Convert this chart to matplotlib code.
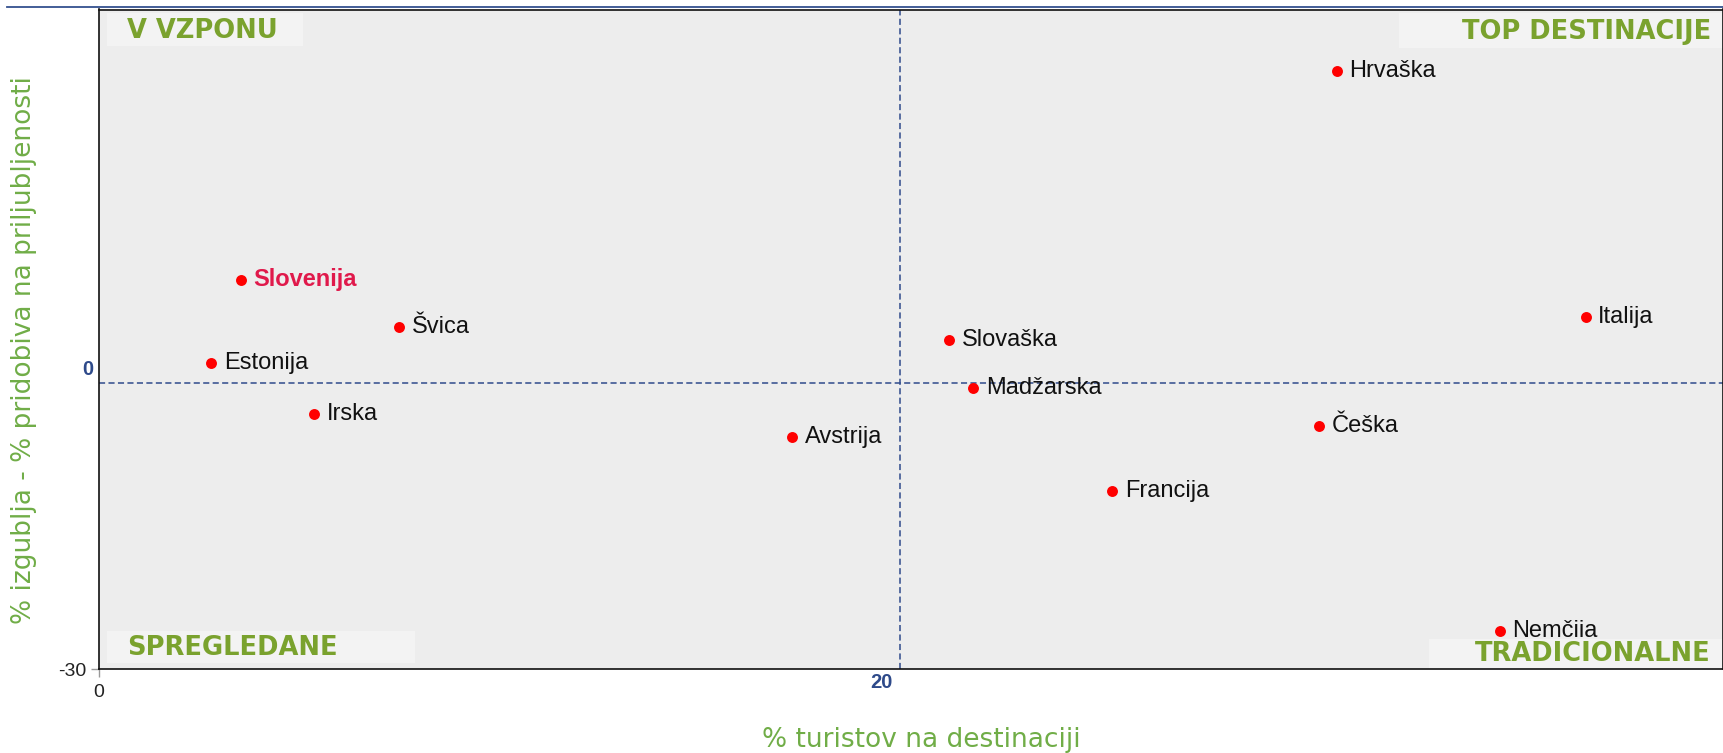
import matplotlib
matplotlib.use("Agg")
import matplotlib.pyplot as plt
from matplotlib.patches import Rectangle
from matplotlib.lines import Line2D

# ---- data ----
countries = ["Hrvaška", "Slovenija", "Švica", "Estonija", "Irska", "Avstrija",
             "Slovaška", "Madžarska", "Francija", "Češka", "Italija", "Nemčiia"]
tourists_pct = [30.9, 3.54, 7.49, 2.80, 5.38, 17.31, 21.23, 21.83, 25.30, 30.46, 37.12, 34.98]
popularity_change = [32.8, 10.85, 5.94, 2.16, -3.22, -5.67, 4.55, -0.46, -11.28, -4.48, 6.99, -26.0]
highlight = "Slovenija"
mid_x, mid_y = 20, 0
x_range = (0, 40.55)
y_range = (-30, 39.25)
quadrant_labels = ["V VZPONU", "TOP DESTINACIJE", "SPREGLEDANE", "TRADICIONALNE"]
xlabel = "% turistov na destinaciji"
ylabel = "% izgublja - % pridobiva na priljubljenosti"

W, H = 1723, 753
fig = plt.figure(figsize=(W / 100, H / 100), dpi=100)
ax_l, ax_r, ax_t, ax_b = 99, 1723, 9.5, 669
ax = fig.add_axes([ax_l / W, 1 - ax_b / H, (ax_r - ax_l) / W, (ax_b - ax_t) / H])
ax.set_facecolor("#EDEDED")
ax.set_xlim(*x_range)
ax.set_ylim(*y_range)
for s in ax.spines.values():
    s.set_color("#111111")
    s.set_linewidth(1.2)

# top slide line
fig.add_artist(Line2D([7 / W, 1], [1 - 7 / H] * 2, color="#34508F", lw=1.3))

# dashed quadrant lines
dash_c = "#2F4B8C"
ax.axvline(mid_x, color=dash_c, lw=1.1, dashes=(4, 2.2), zorder=1)
ax.axhline(mid_y, color=dash_c, lw=1.1, dashes=(4, 2.2), zorder=1)

# ticks
ax.set_xticks([x_range[0]])
ax.set_xticklabels(["0"])
ax.set_yticks([y_range[0]])
ax.set_yticklabels(["-30"])
ax.tick_params(direction="out", length=6, width=1, color="#999999",
               labelsize=14, labelcolor="#222222")
ax.tick_params(axis="x", pad=5)
ax.tick_params(axis="y", pad=3)
for lab in ax.get_xticklabels() + ax.get_yticklabels():
    lab.set_family("Liberation Sans")

# blue mid labels
blue = "#2E4A8A"
ax.annotate(str(mid_x), xy=(mid_x, 0), xycoords=("data", "axes fraction"),
            xytext=(-13, -10), textcoords="offset points", ha="center", va="center",
            fontsize=14.5, fontweight="bold", color=blue, family="Liberation Sans",
            annotation_clip=False)
ax.annotate(str(mid_y), xy=(0, mid_y), xycoords=("axes fraction", "data"),
            xytext=(-8, 9.6), textcoords="offset points", ha="center", va="center",
            fontsize=14.5, fontweight="bold", color=blue, family="Liberation Sans",
            annotation_clip=False)

# points
ax.scatter(tourists_pct, popularity_change, s=62, color="#FF0000", zorder=3, linewidths=0)
for name, x, y in zip(countries, tourists_pct, popularity_change):
    if name == highlight:
        ax.annotate(name, (x, y), xytext=(9, 0), textcoords="offset points",
                    ha="left", va="center", fontsize=17, fontweight="bold",
                    color="#E0194B", family="Liberation Sans", zorder=4)
    else:
        ax.annotate(name, (x, y), xytext=(9, 0), textcoords="offset points",
                    ha="left", va="center", fontsize=17, color="#111111",
                    family="Liberation Sans", zorder=4)

# quadrant label boxes (axes fraction)
def fx(px):
    return (px - ax_l) / (ax_r - ax_l)

def fy(py):
    return (ax_b - py) / (ax_b - ax_t)

green = "#7AA22E"
box_c = "#F3F3F3"
boxes = [
    (107, 303, 12.5, 45.5),
    (1399, 1723, 12.5, 48),
    (107, 415, 631, 663),
    (1429, 1723, 639, 669),
]
text_pos = [
    (127, 30.5, "left"),
    (1711, 32, "right"),
    (127, 648, "left"),
    (1711, 654, "right"),
]
for lab, (x0, x1, y0, y1), (tx, ty, ha) in zip(quadrant_labels, boxes, text_pos):
    ax.add_patch(Rectangle((fx(x0), fy(y1)), fx(x1) - fx(x0), fy(y0) - fy(y1),
                           transform=ax.transAxes, facecolor=box_c, edgecolor="none",
                           zorder=2, clip_on=False))
    ax.text(fx(tx), fy(ty), lab, transform=ax.transAxes, ha=ha, va="center",
            fontsize=18.5, fontweight="bold", color=green, family="DejaVu Sans", zorder=5)

# axis labels
lab_green = "#70AD47"
ax.set_xlabel(xlabel, fontsize=19, color=lab_green, va="center", ha="center")
ax.xaxis.set_label_coords(fx(921), fy(740))
ax.set_ylabel(ylabel, fontsize=19, color=lab_green, va="center", ha="center")
ax.yaxis.set_label_coords(fx(24), fy(350))

fig.savefig("out.png", dpi=100)
